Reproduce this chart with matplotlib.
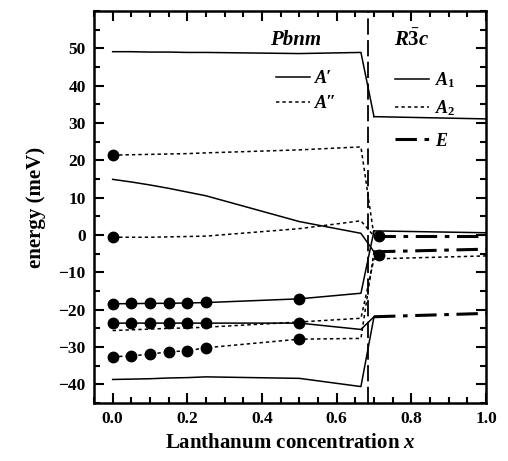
import matplotlib
matplotlib.use("Agg")
import matplotlib.pyplot as plt
from matplotlib.lines import Line2D

# ---------------------------- data ----------------------------

# Pbnm phase (orthorhombic), lanthanum concentration x
x_pbnm = [0.0, 0.05, 0.10, 0.15, 0.20, 0.25, 0.50, 0.665]

# A' modes (solid)
a_prime_1 = [49.1, 49.1, 49.0, 49.0, 48.9, 48.9, 48.6, 48.9]
a_prime_2 = [14.9, 14.2, 13.4, 12.5, 11.5, 10.5, 3.6, 0.45]
a_prime_3 = [-18.4, -18.4, -18.3, -18.3, -18.2, -18.1, -17.1, -15.6]
a_prime_4 = [-23.6, -23.6, -23.6, -23.6, -23.6, -23.6, -23.6, -25.3]
a_prime_5 = [-38.7, -38.6, -38.5, -38.3, -38.2, -38.0, -38.4, -40.6]

# A'' modes (dotted)
a_dprime_1 = [21.4, 21.5, 21.6, 21.7, 21.8, 22.0, 22.8, 23.6]
a_dprime_2 = [-0.6, -0.6, -0.6, -0.5, -0.4, -0.3, 1.7, 3.8]
a_dprime_3 = [-25.6, -25.4, -25.2, -25.0, -24.9, -24.7, -23.3, -22.3]
a_dprime_4 = [-32.6, -32.4, -31.9, -31.3, -31.0, -30.2, -27.9, -27.7]

# R-3c phase (rhombohedral)
x_r3c = [0.70, 1.0]
r_a1_high = [31.7, 31.1]
r_a1_low = [1.1, 0.6]
r_a2 = [-6.4, -5.6]
r_e_high = [-0.3, -0.3]
r_e_mid = [-4.5, -3.8]
r_e_low = [-21.9, -21.0]

# which R-3c mode each Pbnm mode runs into at the transition
a_prime_targets = ["a1_high", "e_mid", "a1_low", "e_low", "e_low"]
a_dprime_targets = ["e_high", "e_high", "a2", "e_mid"]

# measured points (filled circles)
x_meas = [0.0, 0.05, 0.10, 0.15, 0.20, 0.25, 0.50]
meas_1 = [-18.4, -18.3, -18.3, -18.2, -18.1, -18.0, -17.1]
meas_2 = [-23.7, -23.6, -23.6, -23.6, -23.5, -23.5, -23.5]
meas_3 = [-32.6, -32.4, -31.9, -31.3, -31.0, -30.2, -27.9]
x_meas_single = [0.0, 0.0]
meas_single = [21.4, -0.5]
x_meas_r3c = [0.713, 0.713]
meas_r3c = [-0.3, -5.4]

x_transition = 0.683

# ---------------------------- style ----------------------------

plt.rcParams["font.family"] = "Liberation Serif"
plt.rcParams["font.weight"] = "bold"
plt.rcParams["axes.labelweight"] = "bold"
plt.rcParams["mathtext.fontset"] = "custom"
plt.rcParams["mathtext.it"] = "Liberation Serif:italic:bold"
plt.rcParams["mathtext.rm"] = "Liberation Serif:bold"

solid = "-"
dotted = (0, (2.2, 2.0))
dashdot = (0, (7, 2.5, 1.5, 2.5))

r3c = {
    "a1_high": r_a1_high,
    "a1_low": r_a1_low,
    "a2": r_a2,
    "e_high": r_e_high,
    "e_mid": r_e_mid,
    "e_low": r_e_low,
}

fig = plt.figure(figsize=(5.08, 4.61), dpi=100)
ax = fig.add_axes([94 / 508, 1 - 403 / 461, 392 / 508, 392 / 461])

# Pbnm modes, each continued into its R-3c partner
for ys, tgt in zip([a_prime_1, a_prime_2, a_prime_3, a_prime_4, a_prime_5], a_prime_targets):
    ax.plot(x_pbnm + [x_r3c[0]], ys + [r3c[tgt][0]], color="black", lw=1.1, ls=solid)

for ys, tgt in zip([a_dprime_1, a_dprime_2, a_dprime_3, a_dprime_4], a_dprime_targets):
    ax.plot(x_pbnm + [x_r3c[0]], ys + [r3c[tgt][0]], color="black", lw=1.1, ls=dotted)

# R-3c modes
ax.plot(x_r3c, r_a1_high, color="black", lw=1.1, ls=solid)
ax.plot(x_r3c, r_a1_low, color="black", lw=1.1, ls=solid)
ax.plot(x_r3c, r_a2, color="black", lw=1.1, ls=dotted)
for ys in [r_e_high, r_e_mid, r_e_low]:
    ax.plot(x_r3c, ys, color="black", lw=2.2, ls=dashdot)

# measured points
for ys in [meas_1, meas_2, meas_3]:
    ax.plot(x_meas, ys, "o", color="black", ms=7.5)
ax.plot(x_meas_single, meas_single, "o", color="black", ms=7.5)
ax.plot(x_meas_r3c, meas_r3c, "o", color="black", ms=7.5)

# phase boundary
ax.axvline(x_transition, color="black", lw=1.3, ls=(0, (9, 3)))

ax.set_xlim(-0.05, 1.0)
ax.set_ylim(-45, 60)
ax.set_xticks([0.0, 0.2, 0.4, 0.6, 0.8, 1.0])
ax.set_xticks([i * 0.05 for i in range(-1, 21)], minor=True)
ax.set_yticks(range(-40, 51, 10))
ax.set_yticks(range(-45, 61, 5), minor=True)
ax.set_xticklabels(["0.0", "0.2", "0.4", "0.6", "0.8", "1.0"])
ax.tick_params(which="both", direction="in", top=True, right=True, width=1.5)
ax.tick_params(which="major", length=7, labelsize=12.5, pad=6)
ax.tick_params(which="minor", length=4)
for sp in ax.spines.values():
    sp.set_linewidth(1.8)

ax.set_xlabel(r"Lanthanum concentration $x$", fontsize=15, labelpad=4)
ax.set_ylabel("energy (meV)", fontsize=15, labelpad=9)

# phase labels and legends
ax.text(0.49, 52.3, "Pbnm", fontsize=15, style="italic", ha="center", va="center")
ax.text(0.80, 52.3, r"$R\bar{3}c$", fontsize=15, ha="center", va="center")

lbl_font = {"family": "Liberation Serif", "weight": "bold", "style": "italic", "size": 13}
h_solid = Line2D([], [], color="black", lw=1.1, ls=solid)
h_dot = Line2D([], [], color="black", lw=1.1, ls=dotted)
h_dd = Line2D([], [], color="black", lw=2.2, ls=dashdot)

leg_opts = dict(prop=lbl_font, frameon=False, loc="upper left", handlelength=1.9,
                handletextpad=0.3, labelspacing=0.45, borderpad=0)
leg1 = ax.legend([h_solid, h_dot], ["A\u2032", "A\u2033"], bbox_to_anchor=(0.44, 0.872), **leg_opts)
ax.add_artist(leg1)
leg2 = ax.legend([h_solid, h_dot], [r"$A_1$", r"$A_2$"], bbox_to_anchor=(0.745, 0.872), **leg_opts)
ax.add_artist(leg2)
ax.legend([h_dd], [r"$E$"], bbox_to_anchor=(0.745, 0.713), **leg_opts)

fig.savefig("out.png", dpi=100)
